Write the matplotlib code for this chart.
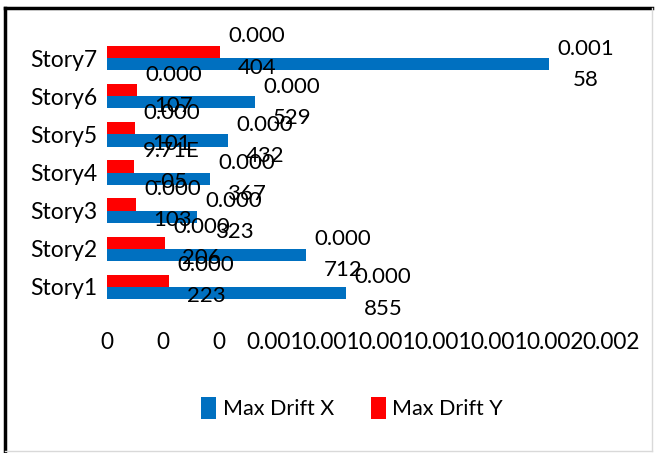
import matplotlib
matplotlib.use('Agg')
import matplotlib.pyplot as plt
from matplotlib.lines import Line2D
from matplotlib.ticker import FuncFormatter, MultipleLocator
import numpy as np

plt.rcParams['font.family'] = ['Lato', 'DejaVu Sans']

stories = ['Story1', 'Story2', 'Story3', 'Story4', 'Story5', 'Story6', 'Story7']
drift_x = [0.000855, 0.000712, 0.000323, 0.000367, 0.000432, 0.000529, 0.00158]
drift_y = [0.000223, 0.000206, 0.000103, 9.71e-05, 0.000101, 0.000107, 0.000404]

blue = '#0070C0'
red = '#FF0000'

W, H = 659, 453
fig = plt.figure(figsize=(W / 100, H / 100), dpi=100)
ax = fig.add_axes([107 / W, 1 - 306 / H, (611 - 107) / W, (306 - 39) / H])

y = np.arange(len(stories))
bh = 0.32
ax.barh(y - bh / 2, drift_x, height=bh, color=blue, label='Max Drift X')
ax.barh(y + bh / 2, drift_y, height=bh, color=red, label='Max Drift Y')


def excel_label(v):
    # General-format value, wrapped after five characters like a narrow label box
    s = f'{v:.2E}' if v < 1e-4 else f'{v:.6g}'
    return s[:5] + '\n' + s[5:]


for vals, off in [(drift_x, -bh / 2), (drift_y, bh / 2)]:
    for yi, v in zip(y, vals):
        ax.annotate(excel_label(v), (v, yi + off), xytext=(6, 0),
                    textcoords='offset points', ha='left', va='center',
                    multialignment='center', fontsize=16, linespacing=1.7,
                    annotation_clip=False)

ax.set_xlim(0, 0.0018)
ax.set_ylim(-0.5, len(stories) - 0.5)
ax.xaxis.set_major_locator(MultipleLocator(0.0002))
ax.xaxis.set_major_formatter(FuncFormatter(
    lambda v, p: '0' if round(v, 3) == 0 else f'{v:.3f}'))
ax.set_yticks(y)
ax.set_yticklabels(stories)
ax.tick_params(axis='x', length=0, pad=19, labelsize=16.3)
ax.tick_params(axis='y', length=0, pad=7, labelsize=16.5)
for s in ax.spines.values():
    s.set_visible(False)

fig.legend(loc='center', bbox_to_anchor=(352 / W, 1 - 408 / H), ncol=2,
           frameon=False, fontsize=15.5, handlelength=0.7, handleheight=1.2,
           handletextpad=0.3, columnspacing=1.7)

# chart frame: dark top/left edges, light right/bottom edges
fig.add_artist(Line2D([5 / W, 652 / W], [1 - 8 / H, 1 - 8 / H], color='black', lw=2.5))
fig.add_artist(Line2D([5 / W, 5 / W], [1 - 8 / H, 0], color='black', lw=2.5))
fig.add_artist(Line2D([652 / W, 652 / W], [1 - 8 / H, 1 - 451 / H], color='#d9d9d9', lw=1))
fig.add_artist(Line2D([5 / W, 652 / W], [1 - 451 / H, 1 - 451 / H], color='#d9d9d9', lw=1))

fig.savefig('out.png', dpi=100)
